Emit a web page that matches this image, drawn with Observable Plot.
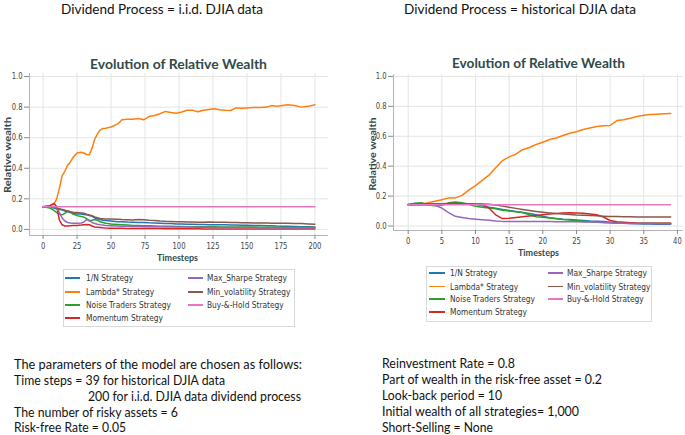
<!DOCTYPE html>
<html><head><meta charset="utf-8">
<script src="https://cdn.jsdelivr.net/npm/d3@7"></script>
<script src="https://cdn.jsdelivr.net/npm/@observablehq/plot@0.6"></script>
<style>
html,body{margin:0;padding:0;background:#fff;}
#wrap{position:relative;width:685px;height:435px;overflow:hidden;background:#fff;}
.t{position:absolute;white-space:nowrap;line-height:1;transform-origin:0 50%;}
.r{position:absolute;white-space:nowrap;line-height:1;transform-origin:50% 50%;}
.panel{position:absolute;}
.legend{position:absolute;border:1px solid #d9d9d9;background:#fff;box-sizing:border-box;}
.sw{position:absolute;height:0;border-top-style:solid;}
</style></head><body><div id="wrap"></div>
<script>
// ---------- data ----------
const strategies = ["1/N Strategy","Lambda* Strategy","Noise Traders Strategy","Momentum Strategy","Max_Sharpe Strategy","Min_volatility Strategy","Buy-&-Hold Strategy"];
const strategyColors = ["#1f77b4","#ff7f0e","#2ca02c","#d62728","#9467bd","#8c564b","#e377c2"];

// Left panel: dividend process = i.i.d. DJIA data (values read at these timesteps)
const iidSteps = [0,5,8,10,12,14,16,18,20,22,25,28,30,32,34,36,38,40,42,44,46,50,55,58,62,66,70,74,78,82,86,90,94,98,102,106,110,114,118,122,126,130,134,138,142,146,150,155,160,165,168,172,176,180,185,190,195,200];
const iidOneN = [.148,.145,.14,.135,.13,.128,.12,.115,.11,.105,.10,.10,.098,.095,.09,.085,.075,.07,.065,.06,.058,.055,.05,.05,.048,.047,.045,.045,.043,.042,.04,.038,.038,.036,.035,.034,.033,.032,.032,.031,.03,.03,.03,.029,.028,.027,.027,.026,.025,.024,.024,.022,.021,.02,.019,.018,.017,.016];
const iidLambda = [.148,.155,.165,.20,.27,.35,.38,.42,.44,.47,.50,.505,.50,.49,.488,.53,.59,.625,.65,.66,.662,.67,.69,.718,.72,.72,.725,.717,.738,.745,.757,.772,.765,.76,.768,.78,.78,.77,.78,.785,.79,.783,.78,.778,.795,.793,.795,.797,.797,.80,.81,.805,.81,.815,.81,.80,.805,.815];
const iidNoise = [.148,.14,.125,.11,.10,.095,.105,.12,.115,.10,.09,.085,.08,.07,.055,.06,.065,.06,.05,.045,.04,.035,.032,.03,.028,.026,.025,.024,.023,.022,.021,.02,.02,.019,.019,.018,.018,.018,.017,.017,.017,.016,.016,.016,.015,.015,.015,.015,.014,.014,.014,.014,.013,.013,.013,.012,.012,.012];
const iidMomentum = [.148,.155,.17,.15,.06,.03,.022,.022,.024,.025,.026,.028,.03,.032,.03,.022,.016,.014,.012,.01,.009,.008,.007,.007,.006,.006,.006,.005,.005,.005,.005,.004,.004,.004,.004,.004,.004,.004,.003,.003,.003,.003,.003,.003,.003,.003,.003,.003,.003,.002,.002,.002,.002,.002,.002,.002,.002,.002];
const iidMaxSharpe = [.148,.148,.15,.14,.11,.075,.055,.045,.042,.04,.04,.042,.048,.065,.06,.045,.038,.033,.03,.028,.026,.024,.022,.021,.02,.019,.019,.018,.018,.017,.017,.016,.016,.016,.015,.015,.015,.014,.014,.014,.013,.013,.013,.013,.012,.012,.012,.012,.011,.011,.011,.011,.011,.01,.01,.01,.01,.01];
const iidMinVol = [.148,.148,.145,.14,.135,.13,.125,.12,.115,.112,.11,.108,.106,.10,.095,.09,.082,.076,.072,.07,.068,.068,.066,.064,.063,.062,.064,.063,.06,.058,.055,.053,.052,.05,.05,.049,.048,.047,.047,.048,.047,.046,.046,.045,.045,.044,.043,.042,.041,.041,.04,.04,.04,.04,.039,.038,.036,.034];
const iidBuyHold = [.148,.148,.148,.148,.148,.148,.148,.148,.148,.148,.148,.148,.148,.148,.148,.148,.148,.148,.148,.148,.148,.148,.148,.148,.148,.148,.148,.148,.148,.148,.148,.148,.148,.148,.148,.148,.148,.148,.148,.148,.148,.148,.148,.148,.148,.148,.148,.148,.148,.148,.148,.148,.148,.148,.148,.148,.148,.148];

// Right panel: dividend process = historical DJIA data
const histSteps = [0,1,2,3,4,5,6,7,8,9,10,11,12,13,14,15,16,17,18,19,20,21,22,23,24,25,26,27,28,29,30,31,32,33,34,35,36,37,38,39];
const histOneN = [.143,.143,.143,.143,.143,.143,.145,.148,.148,.147,.145,.135,.125,.118,.11,.103,.097,.09,.083,.075,.065,.055,.05,.046,.043,.04,.037,.034,.032,.03,.025,.02,.018,.016,.015,.014,.013,.012,.012,.012];
const histLambda = [.143,.143,.145,.155,.165,.175,.188,.188,.205,.24,.27,.305,.34,.39,.437,.462,.48,.51,.525,.545,.56,.578,.588,.605,.62,.63,.645,.655,.665,.67,.672,.705,.71,.72,.732,.74,.745,.748,.75,.752];
const histNoise = [.143,.152,.155,.14,.135,.138,.155,.16,.155,.145,.132,.125,.12,.115,.105,.10,.095,.09,.075,.062,.058,.053,.048,.043,.04,.036,.032,.028,.026,.024,.021,.019,.019,.018,.018,.018,.018,.018,.018,.018];
const histMomentum = [.143,.145,.148,.148,.148,.149,.15,.15,.149,.148,.146,.145,.12,.075,.05,.052,.057,.062,.067,.07,.075,.08,.084,.087,.088,.087,.085,.08,.075,.06,.037,.028,.025,.022,.02,.019,.019,.018,.018,.018];
const histMaxSharpe = [.143,.143,.142,.14,.138,.12,.09,.065,.057,.05,.046,.042,.038,.034,.031,.03,.03,.03,.03,.03,.03,.03,.029,.029,.028,.028,.027,.026,.025,.023,.021,.019,.018,.017,.017,.016,.016,.015,.015,.015];
const histMinVol = [.145,.146,.147,.148,.148,.148,.148,.148,.148,.148,.148,.148,.145,.14,.133,.126,.118,.11,.103,.097,.092,.087,.083,.08,.077,.074,.072,.07,.068,.066,.064,.063,.062,.062,.061,.061,.06,.06,.06,.06];
const histBuyHold = [.143,.143,.143,.143,.143,.143,.143,.143,.143,.143,.143,.143,.143,.143,.143,.143,.143,.143,.143,.143,.143,.143,.143,.143,.143,.143,.143,.143,.143,.143,.143,.143,.143,.143,.143,.143,.143,.143,.143,.143];

const yTicks = [0, 0.2, 0.4, 0.6, 0.8, 1.0];
const iidXTicks = [0,25,50,75,100,125,150,175,200];
const histXTicks = [0,5,10,15,20,25,30,35,40];

const headingLeft = "Dividend Process = i.i.d. DJIA data";
const headingRight = "Dividend Process = historical DJIA data";
const chartTitle = "Evolution of Relative Wealth";
const yLabel = "Relative wealth";
const xLabel = "Timesteps";
const notesLeft = ["The parameters of the model are chosen as follows:","Time steps = 39 for historical DJIA data","200 for i.i.d. DJIA data dividend process","The number of risky assets = 6","Risk-free Rate = 0.05"];
const notesRight = ["Reinvestment Rate = 0.8","Part of wealth in the risk-free asset = 0.2","Look-back period = 10","Initial wealth of all strategies= 1,000","Short-Selling = None"];

// ---------- build ----------
const wrap = document.getElementById("wrap");
const slate = "#2f4a4a";

function tidy(steps, series) {
  const rows = [];
  series.forEach((vals, i) => vals.forEach((v, j) => rows.push({t: steps[j], v, s: strategies[i]})));
  return rows;
}

function panel(rows, cfg) {
  const svg = Plot.plot({
    width: cfg.width, height: 220,
    marginLeft: cfg.ml, marginRight: cfg.mr, marginTop: cfg.mt, marginBottom: cfg.mb,
    x: {domain: cfg.xd}, y: {domain: cfg.yd},
    color: {domain: strategies, range: strategyColors},
    style: {fontFamily: "DejaVu Sans", fontSize: "8.5px", color: "#444", background: "transparent", overflow: "visible"},
    marks: [
      Plot.gridX({ticks: cfg.xt, stroke: "#e4e4e4", strokeOpacity: 1}),
      Plot.gridY({ticks: yTicks, stroke: "#e4e4e4", strokeOpacity: 1}),
      Plot.ruleX([cfg.xd[0]], {stroke: "#b5b5b5"}),
      Plot.ruleY([cfg.yd[0]], {stroke: "#b5b5b5"}),
      Plot.axisX({ticks: cfg.xt, tickSize: 4, tickPadding: 3, label: null, stroke: "#888"}),
      Plot.axisY({ticks: yTicks, tickFormat: ".1f", tickSize: 5, tickPadding: 2, label: null, stroke: "#888"}),
      Plot.line(rows, {x: "t", y: "v", z: "s", stroke: "s", strokeWidth: 1.5})
    ]
  });
  const d = document.createElement("div");
  d.className = "panel";
  d.style.left = cfg.left + "px"; d.style.top = cfg.top + "px";
  d.appendChild(svg);
  wrap.appendChild(d);
  // narrow the tick labels like the reference's compressed glyphs
  svg.querySelectorAll("text").forEach(t => {
    const len = t.getComputedTextLength();
    if (len > 0) {
      t.setAttribute("textLength", (len * 0.8).toFixed(2));
      t.setAttribute("lengthAdjust", "spacingAndGlyphs");
    }
  });
}

function addText(str, x, cy, w, font, color) {
  const s = document.createElement("span");
  s.className = "t"; s.textContent = str;
  s.style.font = font; s.style.color = color || "#111";
  s.style.left = x + "px"; s.style.top = cy + "px";
  wrap.appendChild(s);
  const nat = s.getBoundingClientRect().width;
  s.style.transform = `translateY(-50%) scaleX(${w / nat})`;
  return s;
}
function addRotText(str, cx, cy, h, font, color) {
  const s = document.createElement("span");
  s.className = "r"; s.textContent = str;
  s.style.font = font; s.style.color = color;
  s.style.left = cx + "px"; s.style.top = cy + "px";
  wrap.appendChild(s);
  const nat = s.getBoundingClientRect().width;
  s.style.transform = `translate(-50%,-50%) rotate(-90deg) scaleX(${h / nat})`;
}
function legend(box, cols, rowsY, thin) {
  const b = document.createElement("div");
  b.className = "legend";
  b.style.left = box[0] + "px"; b.style.top = box[1] + "px";
  b.style.width = box[2] + "px"; b.style.height = box[3] + "px";
  wrap.appendChild(b);
  strategies.forEach((name, i) => {
    const c = i < 4 ? 0 : 1, r = i < 4 ? i : i - 4;
    const col = cols[c];
    const sw = document.createElement("div");
    sw.className = "sw";
    const lw = thin.includes(i) ? 1 : 2;
    sw.style.borderTopWidth = lw + "px";
    sw.style.borderTopColor = strategyColors[i];
    sw.style.left = col[0] + "px"; sw.style.width = col[1] + "px";
    sw.style.top = (rowsY[r] - lw / 2) + "px";
    wrap.appendChild(sw);
    const s = document.createElement("span");
    s.className = "t"; s.textContent = name;
    s.style.font = "9px 'DejaVu Sans'"; s.style.color = "#333";
    s.style.left = col[2] + "px"; s.style.top = rowsY[r] + "px";
    s.style.transform = "translateY(-50%) scaleX(0.83)";
    wrap.appendChild(s);
  });
}

// headings
addText(headingLeft, 61, 9, 202, "13px Lato", "#111");
addText(headingRight, 404, 9, 232, "13px Lato", "#111");

// left panel
panel(tidy(iidSteps, [iidOneN, iidLambda, iidNoise, iidMomentum, iidMaxSharpe, iidMinVol, iidBuyHold]),
  {left: 0, top: 50, width: 335, ml: 29, mr: 7, mt: 23, mb: 35, xd: [-10, 210], yd: [-0.04, 1.02], xt: iidXTicks});
addText(chartTitle, 90, 62.5, 177, "bold 14px Lato", slate);
addRotText(yLabel, 6.5, 155, 76, "bold 9.5px Lato", slate);
addText(xLabel, 157, 257, 41, "bold 9.5px Lato", slate);
legend([63, 269, 232, 58], [[65, 15, 86], [188, 15, 207]], [278.3, 291.7, 305, 317.7], []);

// right panel
panel(tidy(histSteps, [histOneN, histLambda, histNoise, histMomentum, histMaxSharpe, histMinVol, histBuyHold]),
  {left: 345, top: 50, width: 340, ml: 48, mr: 2, mt: 24, mb: 40, xd: [-2.18, 40.9], yd: [-0.03, 1.013], xt: histXTicks});
addText(chartTitle, 452, 62, 173, "bold 14px Lato", slate);
addRotText(yLabel, 371.5, 154, 73, "bold 9.5px Lato", slate);
addText(xLabel, 518, 252, 41, "bold 9.5px Lato", slate);
legend([426, 266, 226, 56], [[429, 16, 450], [548, 15, 567]], [273.3, 286.7, 299.3, 312.3], [1, 5]);

// notes
const leftNoteX = [14, 14, 88, 14, 14];
const leftNoteW = [288, 211, 213, 164, 112];
const noteY = [364, 380, 396, 412, 427];
notesLeft.forEach((s, i) => addText(s, leftNoteX[i], noteY[i], leftNoteW[i], "13px Lato", "#111"));
const rightNoteW = [133, 220, 120, 197, 111];
const rightNoteY = [363, 379, 395, 411, 427];
notesRight.forEach((s, i) => addText(s, 382, rightNoteY[i], rightNoteW[i], "13px Lato", "#111"));
</script></body></html>
